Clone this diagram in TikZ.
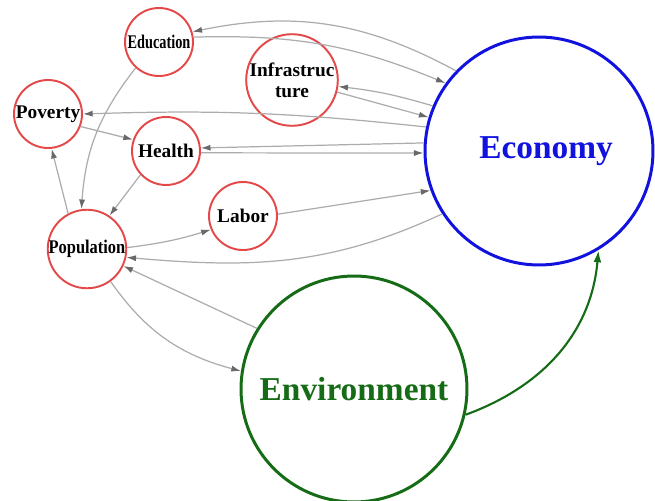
\documentclass[tikz,border=0pt]{standalone}
\usepackage{fontspec}
\setmainfont{Liberation Serif}
\usetikzlibrary{arrows.meta}
\definecolor{topicred}{RGB}{228,72,72}
\definecolor{ecoblue}{RGB}{18,18,222}
\definecolor{envgreen}{RGB}{22,108,22}
\definecolor{linkgray}{RGB}{172,172,172}
\definecolor{tipgray}{RGB}{105,105,105}

\begin{document}
\begin{tikzpicture}[x=0.02cm, y=-0.02cm,
	topic/.style={circle, draw=topicred, line width=1.1pt, minimum size=1.36cm, inner sep=0pt,
		font=\bfseries\fontsize{11}{12}\selectfont, align=center},
	sector/.style={circle, line width=1.7pt, minimum size=4.56cm, inner sep=0pt,
		font=\bfseries\fontsize{19}{22}\selectfont},
	link/.style={draw=linkgray, line width=0.7pt, -{Latex[length=5.5pt,width=3.5pt,color=tipgray]}}]
	\useasboundingbox (0,0) rectangle (655,500);
%	% Sectors
	\node[sector, draw=ecoblue, text=ecoblue] (eco) at (539,151) {\hspace*{8pt}Economy};
	\node[sector, draw=envgreen, text=envgreen, minimum size=4.52cm] (env) at (354,389) {Environment};
%	% Small topics
	\node[topic] (edu) at (159,42) {\scalebox{0.74}[1]{Education}};
	\node[topic] (inf) at (292,80) {Infrastruc\\ture};
	\node[topic] (pov) at (48,114) {Poverty};
	\node[topic] (hea) at (166,151) {Health};
	\node[topic] (lab) at (243,216) {Labor};
	\node[topic] (pop) at (87,249) {\scalebox{0.85}[1]{Population}};
%	% Links to and from the economy
	\draw[link] (eco.136) to[bend right=20] (edu.17);
	\draw[link] (edu.8) to[bend left=12] (eco.144);
	\draw[link] (eco.157) to[bend right=5] (inf.-8);
	\draw[link] (inf.-15) -- (eco.163);
	\draw[link] (eco.168) to[bend right=4] (pov.0);
	\draw[link] (eco.176) -- (hea.5);
	\draw[link] (hea.-3) -- (eco.181);
	\draw[link] (lab.3) -- (eco.200);
	\draw[link] (eco.213) to[out=205,in=-5] (pop.-12);
%	% Links between the topics
	\draw[link] (pov.-21) -- (hea.161);
	\draw[link] (edu.228) to[bend right=17] (pop.98);
	\draw[link] (hea.223) -- (pop.56);
	\draw[link] (pop.118) -- (pov.-84);
	\draw[link] (pop.2) to[bend right=5] (lab.203);
%	% Environment
	\draw[link] (env.148) -- (pop.-25);
	\draw[link] (pop.-54) to[out=-55,in=165] (env.171);
	\draw[draw=envgreen, line width=1.2pt, -{Latex[length=7pt,width=4.5pt]}] (env.-13) to[out=20,in=-95] (eco.-59);
\end{tikzpicture}
\end{document}
